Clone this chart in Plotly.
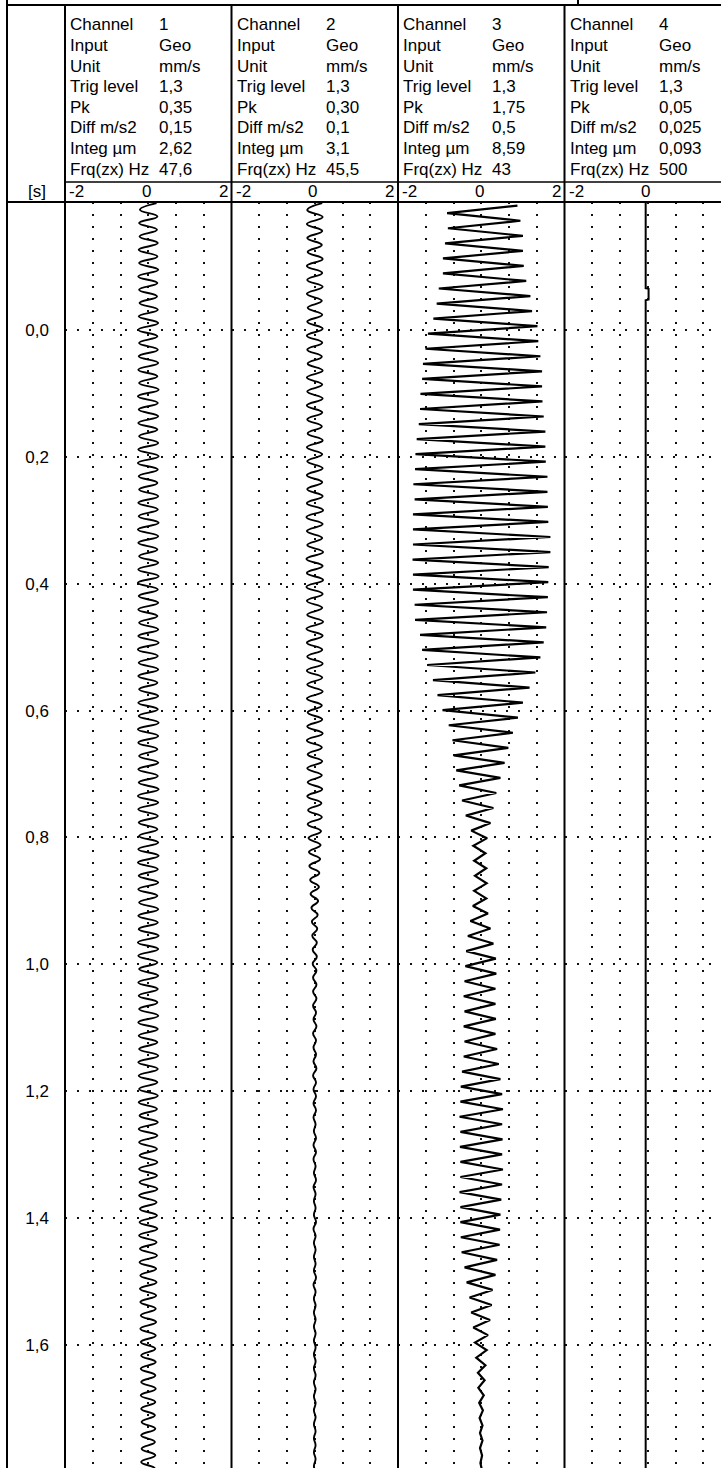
import plotly.graph_objects as go

# ---------------- data ----------------
header_labels = ["Channel", "Input", "Unit", "Trig level", "Pk",
                 "Diff m/s2", "Integ µm", "Frq(zx) Hz"]
header_values = [
    ["1", "Geo", "mm/s", "1,3", "0,35", "0,15", "2,62", "47,6"],
    ["2", "Geo", "mm/s", "1,3", "0,30", "0,1", "3,1", "45,5"],
    ["3", "Geo", "mm/s", "1,3", "1,75", "0,5", "8,59", "43"],
    ["4", "Geo", "mm/s", "1,3", "0,05", "0,025", "0,093", "500"],
]
x_tick_vals = [-2, 0, 2]
x_tick_text = ["-2", "0", "2"]
y_tick_vals = [0.0, 0.2, 0.4, 0.6, 0.8, 1.0, 1.2, 1.4, 1.6]
y_tick_text = ["0,0", "0,2", "0,4", "0,6", "0,8", "1,0", "1,2", "1,4", "1,6"]
time_unit = "[s]"

# channel 1: per-cycle peak amplitude (mm/s), cycle start and length (s)
ch1_start, ch1_cycle = -0.200, 0.0210
ch1_amp = [
    0.20, 0.22, 0.21, 0.23, 0.22, 0.24, 0.22, 0.21, 0.23, 0.24, 0.22, 0.23,
    0.24, 0.22, 0.25, 0.23, 0.24, 0.22, 0.24, 0.25, 0.23, 0.22, 0.24, 0.23,
    0.25, 0.24, 0.22, 0.24, 0.25, 0.23, 0.24, 0.22, 0.24, 0.25, 0.23, 0.24,
    0.22, 0.24, 0.23, 0.25, 0.24, 0.22, 0.24, 0.23, 0.25, 0.24, 0.23, 0.22,
    0.24, 0.25, 0.23, 0.24, 0.22, 0.24, 0.23, 0.25, 0.24, 0.22, 0.24, 0.23,
    0.22, 0.24, 0.23, 0.22, 0.24, 0.23, 0.22, 0.23, 0.21, 0.23, 0.22, 0.21,
    0.22, 0.21, 0.22, 0.20, 0.21, 0.22, 0.20, 0.21, 0.19, 0.20, 0.19, 0.18,
    0.19, 0.18, 0.17, 0.18, 0.17, 0.18, 0.17, 0.16, 0.17, 0.16, 0.17, 0.16,
]

# channel 2
ch2_start, ch2_cycle = -0.200, 0.0220
ch2_amp = [
    0.18, 0.19, 0.18, 0.17, 0.19, 0.18, 0.19, 0.17, 0.18, 0.19, 0.18, 0.17,
    0.19, 0.18, 0.19, 0.18, 0.17, 0.19, 0.18, 0.19, 0.18, 0.19, 0.20, 0.19,
    0.18, 0.20, 0.19, 0.20, 0.19, 0.18, 0.20, 0.19, 0.18, 0.19, 0.18, 0.19,
    0.17, 0.18, 0.19, 0.17, 0.18, 0.17, 0.18, 0.16, 0.17, 0.15, 0.14, 0.13,
    0.11, 0.10, 0.08, 0.07, 0.06, 0.05, 0.05, 0.04, 0.04, 0.04, 0.03, 0.04,
    0.03, 0.03, 0.04, 0.03, 0.03, 0.03, 0.02, 0.03, 0.03, 0.02, 0.03, 0.02,
    0.02, 0.03, 0.02, 0.02, 0.02, 0.03, 0.02, 0.02, 0.02, 0.02, 0.02, 0.02,
    0.02, 0.02, 0.02, 0.02, 0.02, 0.02, 0.02, 0.02,
]

# channel 3: right (positive) and left (negative) extreme of every cycle
ch3_start, ch3_cycle = -0.196, 0.02374
ch3_right = [
    0.87, 0.94, 1.00, 1.00, 1.02, 1.08, 1.18, 1.22, 1.35, 1.37, 1.42, 1.46,
    1.46, 1.47, 1.50, 1.54, 1.54, 1.55, 1.59, 1.59, 1.60, 1.61, 1.66, 1.66,
    1.62, 1.61, 1.60, 1.58, 1.56, 1.50, 1.42, 1.30, 1.16, 1.00, 0.88, 0.76,
    0.65, 0.56, 0.46, 0.36, 0.29, 0.22, 0.14, 0.10, 0.12, 0.13, 0.12, 0.16,
    0.22, 0.29, 0.35, 0.36, 0.34, 0.34, 0.35, 0.34, 0.38, 0.42, 0.46, 0.50,
    0.52, 0.50, 0.51, 0.50, 0.52, 0.50, 0.48, 0.46, 0.45, 0.44, 0.38, 0.34,
    0.27, 0.25, 0.21, 0.16, 0.13, 0.10, 0.08, 0.06, 0.04, 0.03, 0.03, 0.02,
    0.02,
]
ch3_left = [
    0.82, 0.80, 0.87, 0.92, 0.92, 1.02, 1.07, 1.15, 1.28, 1.34, 1.40, 1.42,
    1.46, 1.47, 1.50, 1.55, 1.58, 1.59, 1.63, 1.60, 1.64, 1.64, 1.64, 1.65,
    1.64, 1.64, 1.60, 1.59, 1.47, 1.42, 1.30, 1.16, 1.05, 0.93, 0.78, 0.69,
    0.66, 0.60, 0.53, 0.46, 0.37, 0.24, 0.19, 0.17, 0.15, 0.17, 0.20, 0.26,
    0.32, 0.36, 0.38, 0.40, 0.42, 0.40, 0.42, 0.40, 0.42, 0.46, 0.49, 0.50,
    0.52, 0.50, 0.51, 0.50, 0.50, 0.52, 0.50, 0.50, 0.49, 0.47, 0.40, 0.35,
    0.28, 0.24, 0.19, 0.15, 0.12, 0.08, 0.07, 0.05, 0.04, 0.03, 0.03, 0.02,
    0.02,
]

# channel 4: almost flat trace with one small step
ch4_t = [-0.202, -0.066, -0.065, -0.048, -0.047, 1.80]
ch4_v = [-0.05, -0.05, 0.02, 0.02, -0.05, -0.05]

# ---------------- layout constants (pixels) ----------------
W, H = 721, 1468
COL_LEFT, COL_W = 65.0, 166.5
PLOT_TOP = 202
Y_RANGE = [1.794, -0.2018]
FONT = "Liberation Sans, Arial, sans-serif"
FS = 17
ROW_Y0, ROW_DY = 25.0, 20.6


def px_x(x):
    return x / W


def px_y(y):
    return 1 - y / H


def zigzag(start, cycle, pos, neg):
    t, v = [], []
    for k, (p, n) in enumerate(zip(pos, neg)):
        t += [start + k * cycle, start + (k + 0.5) * cycle]
        v += [p, -n]
    return t, v


fig = go.Figure()

t1, v1 = zigzag(ch1_start, ch1_cycle, ch1_amp, ch1_amp)
t2, v2 = zigzag(ch2_start, ch2_cycle, ch2_amp, ch2_amp)
t3, v3 = zigzag(ch3_start, ch3_cycle, ch3_right, ch3_left)

fig.add_trace(go.Scatter(x=v1, y=t1, mode="lines", xaxis="x", yaxis="y",
                         line=dict(color="black", width=1.9, shape="spline",
                                   smoothing=1.3)))
fig.add_trace(go.Scatter(x=v2, y=t2, mode="lines", xaxis="x2", yaxis="y2",
                         line=dict(color="black", width=1.9, shape="spline",
                                   smoothing=1.3)))
fig.add_trace(go.Scatter(x=v3, y=t3, mode="lines", xaxis="x3", yaxis="y3",
                         line=dict(color="black", width=2.2)))
fig.add_trace(go.Scatter(x=ch4_v, y=ch4_t, mode="lines", xaxis="x4", yaxis="y4",
                         line=dict(color="black", width=2)))

grid = dict(showgrid=True, gridcolor="#111111", gridwidth=2,
            griddash="2px,10px", zeroline=False, showline=False, ticks="",
            automargin=False, fixedrange=True)

layout = dict(
    width=W, height=H, autosize=False,
    margin=dict(l=0, r=0, t=0, b=0, pad=0),
    paper_bgcolor="white", plot_bgcolor="white",
    showlegend=False, template="none",
    font=dict(family=FONT, size=FS, color="black"),
)

y_dom = [0, px_y(PLOT_TOP)]
col_lefts = []
for i in range(4):
    left = COL_LEFT + i * COL_W
    col_lefts.append(left)
    right = min(left + COL_W, W)
    xr = [-2, -2 + 4 * (right - left) / COL_W]
    key = "xaxis" if i == 0 else f"xaxis{i+1}"
    ykey = "yaxis" if i == 0 else f"yaxis{i+1}"
    yname = "y" if i == 0 else f"y{i+1}"
    layout[key] = dict(grid, domain=[px_x(left), px_x(right)], range=xr,
                       anchor=yname, tickmode="linear", tick0=0, dtick=2 / 3,
                       showticklabels=False)
    ydict = dict(grid, domain=y_dom, range=Y_RANGE,
                 anchor="x" if i == 0 else f"x{i+1}",
                 tickmode="array", tickvals=y_tick_vals, ticktext=y_tick_text,
                 showticklabels=(i == 0))
    if i == 0:
        ydict.update(ticklabelstandoff=15,
                     tickfont=dict(family=FONT, size=FS, color="black"))
    else:
        ydict["matches"] = "y"
    layout[ykey] = ydict

fig.update_layout(**layout)

# ---------- frame lines ----------
shapes = []
blk = dict(color="black", width=2)
for left in col_lefts:
    shapes.append(dict(type="line", xref="paper", yref="paper",
                       x0=px_x(left), x1=px_x(left), y0=0, y1=px_y(5), line=blk))
shapes.append(dict(type="line", xref="paper", yref="paper", x0=px_x(7), x1=px_x(7),
                   y0=0, y1=1, line=blk))
shapes.append(dict(type="line", xref="paper", yref="paper", x0=px_x(7), x1=1,
                   y0=px_y(5), y1=px_y(5), line=blk))
shapes.append(dict(type="line", xref="paper", yref="paper", x0=px_x(COL_LEFT), x1=1,
                   y0=px_y(182), y1=px_y(182), line=dict(color="black", width=1.5)))
shapes.append(dict(type="line", xref="paper", yref="paper", x0=px_x(7), x1=1,
                   y0=px_y(PLOT_TOP), y1=px_y(PLOT_TOP), line=blk))
shapes.append(dict(type="line", xref="paper", yref="paper", x0=px_x(578), x1=px_x(578),
                   y0=px_y(5), y1=1, line=blk))
fig.update_layout(shapes=shapes)

# ---------- header texts ----------
ann = []
for i in range(4):
    xr = "x" if i == 0 else f"x{i+1}"
    for r, lab in enumerate(header_labels):
        y = px_y(ROW_Y0 + r * ROW_DY)
        ann.append(dict(xref=xr, yref="paper", x=-2, y=y, text=lab,
                        xanchor="left", yanchor="middle", xshift=3,
                        showarrow=False))
        ann.append(dict(xref=xr, yref="paper", x=-2, y=y,
                        text=header_values[i][r],
                        xanchor="left", yanchor="middle", xshift=92,
                        showarrow=False))
    anchors = ["left", "center", "right"]
    shifts = [2, -2, -2]
    for v, txt, a, s in zip(x_tick_vals, x_tick_text, anchors, shifts):
        ann.append(dict(xref=xr, yref="paper", x=v, y=px_y(192), text=txt,
                        xanchor=a, yanchor="middle", xshift=s, showarrow=False))
ann.append(dict(xref="paper", yref="paper", x=px_x(37), y=px_y(192), text=time_unit,
                xanchor="center", yanchor="middle", showarrow=False))
fig.update_layout(annotations=ann)

fig.write_html("out.html", config={"displayModeBar": False},
               post_script="document.body.style.margin='0';")
